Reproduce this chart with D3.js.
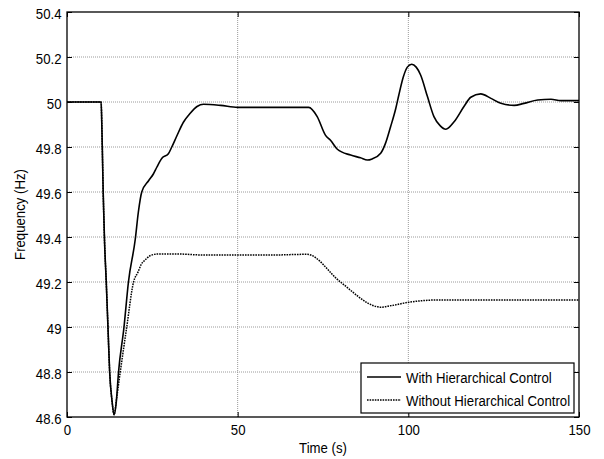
<!DOCTYPE html>
<html>
<head>
<meta charset="utf-8">
<script src="https://cdn.jsdelivr.net/npm/d3@7"></script>
<style>
  body { margin: 0; background: #fff; }
  svg { display: block; }
  text { font-family: Arial, "Liberation Sans", sans-serif; fill: #000; }
</style>
</head>
<body>
<svg id="chart" width="604" height="459"></svg>
<script>
// ---- data ----
const withTime = [0, 10, 10.2, 10.6, 11.0, 11.5, 12.0, 12.5, 13.2, 13.8, 14.4, 15.1, 16.7, 18.0, 20.0, 20.9, 21.9, 23.9, 25.3, 26.3, 27.8, 29.7, 30.7, 32.2, 34.1, 36.1, 38.1, 40.0, 45, 50, 60, 70.8, 73.3, 75.7, 77.2, 79.2, 83.1, 86.0, 88.0, 89.4, 91.9, 93.3, 94.8, 96.3, 97.2, 98.5, 99.7, 101, 102.3, 103.6, 105.6, 107.5, 109.3, 111, 113.4, 116.3, 118.3, 121.2, 124.2, 127.1, 131, 133.9, 137.9, 141.8, 144.7, 150];
const withFreq = [50, 50, 49.9, 49.6, 49.38, 49.2, 49.0, 48.8, 48.67, 48.61, 48.66, 48.8, 49.0, 49.2, 49.39, 49.51, 49.6, 49.65, 49.68, 49.71, 49.75, 49.77, 49.8, 49.85, 49.91, 49.95, 49.98, 49.99, 49.985, 49.976, 49.976, 49.976, 49.935, 49.853, 49.83, 49.79, 49.764, 49.752, 49.742, 49.747, 49.772, 49.816, 49.89, 49.97, 50.03, 50.11, 50.155, 50.168, 50.155, 50.12, 50.024, 49.935, 49.895, 49.879, 49.912, 49.98, 50.021, 50.036, 50.016, 49.994, 49.985, 49.994, 50.009, 50.012, 50.006, 50.006];

const withoutTime = [0, 10, 10.2, 10.6, 11.0, 11.5, 12.0, 12.5, 13.2, 13.8, 14.5, 15.6, 17.5, 19.5, 20.8, 21.8, 22.9, 24.5, 26.3, 31.7, 40, 50, 60, 70.3, 80.1, 90.9, 91.9, 95, 100.2, 104, 108.5, 120, 150];
const withoutFreq = [50, 50, 49.9, 49.6, 49.38, 49.2, 49.0, 48.8, 48.67, 48.61, 48.68, 48.8, 49.0, 49.2, 49.244, 49.28, 49.298, 49.318, 49.324, 49.325, 49.32, 49.32, 49.32, 49.323, 49.2, 49.09, 49.088, 49.095, 49.11, 49.117, 49.12, 49.12, 49.12];

const xTicks = [0, 50, 100, 150];
const yTicks = [48.6, 48.8, 49, 49.2, 49.4, 49.6, 49.8, 50, 50.2, 50.4];
const seriesNames = ["With Hierarchical Control", "Without Hierarchical Control"];
const xLabel = "Time (s)";
const yLabel = "Frequency (Hz)";

// ---- layout ----
const L = 67, R = 579, T = 12, B = 417;
const FS = 15, SX = 0.88;
const svg = d3.select("#chart");
const x = d3.scaleLinear().domain([0, 150]).range([L, R]);
const y = d3.scaleLinear().domain([48.6, 50.4]).range([B, T]);

// grid
const grid = svg.append("g");
grid.selectAll("line.gx").data(xTicks.slice(1, -1)).join("line")
  .attr("x1", d => x(d)).attr("x2", d => x(d)).attr("y1", T).attr("y2", B)
  .attr("stroke", "#9a9a9a").attr("stroke-width", 1).attr("stroke-dasharray", "1,1");
grid.selectAll("line.gy").data(yTicks.slice(1, -1)).join("line")
  .attr("y1", d => y(d)).attr("y2", d => y(d)).attr("x1", L).attr("x2", R)
  .attr("stroke", "#9a9a9a").attr("stroke-width", 1).attr("stroke-dasharray", "1,1");

// lines
const lineGen = d3.line().x(d => x(d[0])).y(d => y(d[1])).curve(d3.curveMonotoneX);
svg.append("path").datum(withTime.map((t, i) => [t, withFreq[i]]))
  .attr("d", lineGen).attr("fill", "none").attr("stroke", "#000").attr("stroke-width", 1.6);
svg.append("path").datum(withoutTime.map((t, i) => [t, withoutFreq[i]]))
  .attr("d", lineGen).attr("fill", "none").attr("stroke", "#000").attr("stroke-width", 1.5)
  .attr("stroke-dasharray", "1.6,1");

// axes
function styleAxis(g) {
  g.select(".domain").remove();
  g.selectAll(".tick line").attr("stroke", "#000").attr("stroke-width", 1);
}
const axB = svg.append("g").attr("transform", `translate(0,${B})`)
  .call(d3.axisBottom(x).tickValues(xTicks).tickSizeInner(-5).tickSizeOuter(0).tickFormat(d3.format("d")));
styleAxis(axB);
axB.selectAll(".tick text").attr("y", 18).attr("dy", null)
  .style("font-size", FS + "px").attr("transform", `scale(${SX},1)`);

const axL = svg.append("g").attr("transform", `translate(${L},0)`)
  .call(d3.axisLeft(y).tickValues(yTicks).tickSizeInner(-5).tickSizeOuter(0).tickFormat(d => d3.format("")(+d.toFixed(1))));
styleAxis(axL);
axL.selectAll(".tick text").attr("x", -5.5 / SX).attr("dy", null).attr("y", 6)
  .style("font-size", FS + "px").attr("transform", `scale(${SX},1)`);

const axT = svg.append("g").attr("transform", `translate(0,${T})`)
  .call(d3.axisTop(x).tickValues(xTicks).tickSizeInner(-5).tickSizeOuter(0).tickFormat(""));
styleAxis(axT);
const axR = svg.append("g").attr("transform", `translate(${R},0)`)
  .call(d3.axisRight(y).tickValues(yTicks).tickSizeInner(-5).tickSizeOuter(0).tickFormat(""));
styleAxis(axR);

// box
svg.append("rect").attr("x", L).attr("y", T).attr("width", R - L).attr("height", B - T)
  .attr("fill", "none").attr("stroke", "#000").attr("stroke-width", 1.3);

// axis labels
svg.append("text").attr("transform", `translate(${(L + R) / 2},453) scale(${SX},1)`)
  .attr("text-anchor", "middle").style("font-size", FS + "px").text(xLabel);
svg.append("text").attr("transform", `translate(25,${(T + B) / 2}) rotate(-90) scale(${SX},1)`)
  .attr("text-anchor", "middle").style("font-size", FS + "px").text(yLabel);

// legend
const lg = svg.append("g");
lg.append("rect").attr("x", 361).attr("y", 363).attr("width", 213).attr("height", 50)
  .attr("fill", "#fff").attr("stroke", "#000").attr("stroke-width", 1.2);
const rows = [{ y: 377, dash: null, w: 1.6 }, { y: 400, dash: "1.6,1", w: 1.5 }];
rows.forEach((r, i) => {
  lg.append("line").attr("x1", 367).attr("x2", 401).attr("y1", r.y).attr("y2", r.y)
    .attr("stroke", "#000").attr("stroke-width", r.w).attr("stroke-dasharray", r.dash);
  lg.append("text").attr("transform", `translate(406,${r.y + 6}) scale(${SX},1)`)
    .style("font-size", FS + "px").text(seriesNames[i]);
});
</script>
</body>
</html>
